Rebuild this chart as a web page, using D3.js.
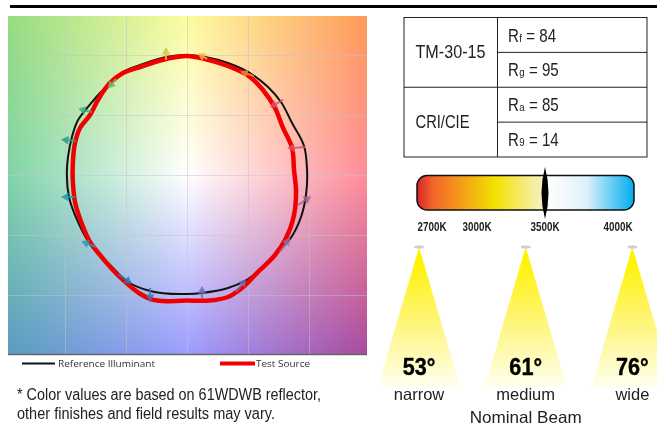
<!DOCTYPE html>
<html>
<head>
<meta charset="utf-8">
<script src="https://cdn.jsdelivr.net/npm/d3@7"></script>
<style>
  body { margin: 0; background: #fff; }
  #wrap { position: relative; width: 657px; height: 424px; overflow: hidden; }
  canvas, svg { position: absolute; left: 0; top: 0; }
  text { font-family: "Liberation Sans", sans-serif; }
</style>
</head>
<body>
<div id="wrap">
  <canvas id="bg" width="657" height="424"></canvas>
  <svg id="chart" width="657" height="424"></svg>
</div>
<script>
// colour vector graphic: [x, y] going clockwise from the top
const refCurve = [[0,1],[.148,.983],[.336,.933],[.541,.833],[.664,.733],[.77,.608],[.861,.433],[.959,.242],[.984,.042],[.975,-.167],[.934,-.35],[.861,-.508],[.762,-.625],[.598,-.792],[.475,-.883],[.336,-.942],[.123,-.983],[0,-.992],[-.303,-.967],[-.484,-.892],[-.631,-.75],[-.779,-.6],[-.893,-.392],[-.967,-.183],[-.984,.042],[-.975,.15],[-.943,.317],[-.893,.458],[-.811,.567],[-.689,.708],[-.59,.792],[-.508,.867],[-.361,.925],[-.172,.983]];
const testCurve = [[0,.992],[.148,.967],[.336,.908],[.516,.817],[.623,.708],[.721,.558],[.787,.392],[.861,.225],[.877,.042],[.893,-.125],[.877,-.333],[.803,-.542],[.721,-.667],[.582,-.808],[.451,-.942],[.336,-1.017],[.23,-1.042],[0,-1.046],[-.303,-1.033],[-.385,-.99],[-.516,-.883],[-.713,-.667],[-.795,-.558],[-.861,-.408],[-.918,-.225],[-.934,-.083],[-.934,.125],[-.918,.267],[-.877,.392],[-.795,.5],[-.73,.625],[-.631,.767],[-.525,.85],[-.385,.9],[-.172,.967]];

// 16 hue bin arrows: tail, head, colour
const binTails = [[.967,.233],[.787,.625],[.549,.825],[.164,.967],[-.172,.958],[-.582,.8],[-.779,.525],[-.91,.283],[-.918,-.183],[-.746,-.6],[-.566,-.825],[-.303,-.942],[.123,-1.025],[.402,-.975],[.762,-.642],[.91,-.25]];
const binHeads = [[.861,.225],[.713,.583],[.475,.85],[.123,.992],[-.172,1.025],[-.623,.75],[-.852,.542],[-.992,.292],[-.992,-.183],[-.828,-.567],[-.484,-.883],[-.303,-1.017],[.123,-.967],[.459,-.9],[.82,-.558],[.984,-.2]];
const binColors = ["#d9506a","#d8506a","#f08a3c","#f0b040","#d9c050","#7fb060","#3fae7a","#1fa08a","#18a0a0","#2a9ab0","#2080c0","#4a70b0","#6a70b0","#7a68a8","#9a70a8","#a8608f"];

const gridTicks = [-1, -.5, 0, .5, 1];
// background colour grid, rows top to bottom
const bgTop = ["#96dc82", "#fdfca0", "#ff9a58"];
const bgMid = ["#80d4a8", "#ffffff", "#ff8c98"];
const bgBot = ["#5a9cc0", "#9c9cff", "#a84a9c"];

const metricGroups = ["TM-30-15", "CRI/CIE"];
const metricNames = [["f", "g"], ["a", "9"]];
const metricValues = [[84, 95], [85, 14]];

const cctTicks = [2700, 3000, 3500, 4000];
const cctSelected = 3500;

const beamAngles = [53, 61, 76];
const beamNames = ["narrow", "medium", "wide"];

const svg = d3.select("#chart");

// ---- plot
const x = d3.scaleLinear().domain([-1.467, 1.475]).range([8, 367]);
const y = d3.scaleLinear().domain([1.325, -1.492]).range([16, 354]);

const ctx = document.getElementById("bg").getContext("2d");
const u = d3.scaleLinear().domain([8, 187, 367]);
const v = d3.scaleLinear().domain([16, 175, 354]);
const rowTop = u.copy().range(bgTop), rowMid = u.copy().range(bgMid), rowBot = u.copy().range(bgBot);
for (let px = 8; px < 367; px++) {
  const col = v.copy().range([rowTop(px), rowMid(px), rowBot(px)]);
  for (let py = 16; py < 354; py++) {
    ctx.fillStyle = col(py);
    ctx.fillRect(px, py, 1, 1);
  }
}

svg.append("g").selectAll("line").data(gridTicks).join("line")
  .attr("x1", d => Math.round(x(d)) + .5).attr("x2", d => Math.round(x(d)) + .5).attr("y1", 16).attr("y2", 354)
  .attr("stroke", "#c4c4c4").attr("stroke-opacity", .5);
svg.append("g").selectAll("line").data(gridTicks).join("line")
  .attr("y1", d => Math.round(y(d)) + .5).attr("y2", d => Math.round(y(d)) + .5).attr("x1", 8).attr("x2", 367)
  .attr("stroke", "#c4c4c4").attr("stroke-opacity", .5);
svg.append("line").attr("x1", 8).attr("x2", 367).attr("y1", 354.5).attr("y2", 354.5)
  .attr("stroke", "#666").attr("stroke-width", 1.5);

const curve = d3.line().x(d => x(d[0])).y(d => y(d[1])).curve(d3.curveCatmullRomClosed.alpha(1));
svg.append("path").attr("d", curve(refCurve)).attr("fill", "none").attr("stroke", "#111").attr("stroke-width", 2);
svg.append("path").attr("d", curve(testCurve)).attr("fill", "none").attr("stroke", "#f00000")
  .attr("stroke-width", 4.5).attr("stroke-linejoin", "round");

const tri = d3.symbol().type(d3.symbolTriangle).size(32);
const arrows = svg.append("g").selectAll("g").data(binTails).join("g").attr("opacity", .85);
arrows.append("line")
  .attr("x1", d => x(d[0])).attr("y1", d => y(d[1]))
  .attr("x2", (d, i) => x(binHeads[i][0])).attr("y2", (d, i) => y(binHeads[i][1]))
  .attr("stroke", (d, i) => binColors[i]).attr("stroke-width", 2);
arrows.append("path").attr("d", tri())
  .attr("fill", (d, i) => binColors[i])
  .attr("transform", (d, i) => {
    const hx = x(binHeads[i][0]), hy = y(binHeads[i][1]);
    const a = Math.atan2(hy - y(d[1]), hx - x(d[0])) * 180 / Math.PI + 90;
    return `translate(${hx},${hy}) rotate(${a})`;
  });

// ---- top rule
svg.append("rect").attr("x", 10).attr("y", 5).attr("width", 647).attr("height", 3).attr("fill", "#000");

// ---- legend
const legendFont = "'Open Sans', sans-serif";
svg.append("line").attr("x1", 22).attr("x2", 55).attr("y1", 363.5).attr("y2", 363.5).attr("stroke", "#111").attr("stroke-width", 2);
svg.append("text").attr("x", 58).attr("y", 367).style("font-family", legendFont).attr("font-size", 9.5).attr("fill", "#333")
  .attr("textLength", 97).attr("lengthAdjust", "spacingAndGlyphs").text("Reference Illuminant");
svg.append("line").attr("x1", 220).attr("x2", 255).attr("y1", 363.5).attr("y2", 363.5).attr("stroke", "#f00000").attr("stroke-width", 4);
svg.append("text").attr("x", 256).attr("y", 367).style("font-family", legendFont).attr("font-size", 9.5).attr("fill", "#333")
  .attr("textLength", 54).attr("lengthAdjust", "spacingAndGlyphs").text("Test Source");

// ---- footnote
svg.append("text").attr("x", 17).attr("y", 400).attr("font-size", 16).attr("fill", "#222")
  .attr("textLength", 304).attr("lengthAdjust", "spacingAndGlyphs").text("* Color values are based on 61WDWB reflector,");
svg.append("text").attr("x", 17).attr("y", 419).attr("font-size", 16).attr("fill", "#222")
  .attr("textLength", 258).attr("lengthAdjust", "spacingAndGlyphs").text("other finishes and field results may vary.");

// ---- metric table
const rowY = d3.scaleLinear().domain([0, 4]).range([17.5, 157]);
const table = svg.append("g");
table.append("rect").attr("x", 404).attr("y", rowY(0)).attr("width", 243).attr("height", rowY(4) - rowY(0))
  .attr("fill", "none").attr("stroke", "#222");
table.append("line").attr("x1", 497.5).attr("x2", 497.5).attr("y1", rowY(0)).attr("y2", rowY(4)).attr("stroke", "#222");
table.selectAll("line.row").data([1, 2, 3]).join("line").attr("class", "row")
  .attr("x1", d => d === 2 ? 404 : 497.5).attr("x2", 647)
  .attr("y1", d => rowY(d)).attr("y2", d => rowY(d)).attr("stroke", "#222");
metricGroups.forEach((g, i) => {
  table.append("text").attr("x", 415.5).attr("y", rowY(i * 2 + 1) + 6).attr("font-size", 18).attr("fill", "#222")
    .attr("textLength", i === 0 ? 70 : 54).attr("lengthAdjust", "spacingAndGlyphs").text(g);
  metricNames[i].forEach((n, j) => {
    const t = table.append("text").attr("transform", `translate(508,${rowY(i * 2 + j) + 24}) scale(.84,1)`)
      .attr("font-size", 18).attr("fill", "#222");
    t.append("tspan").text("R");
    t.append("tspan").attr("font-size", 11.5).attr("dx", .5).text(n);
    t.append("tspan").text(` = ${metricValues[i][j]}`);
  });
});

// ---- colour temperature bar
const cct = d3.scaleLinear().domain(cctTicks).range([432, 477, 545, 618]);
const defs = svg.append("defs");
const barStops = [[0, "#d9252a"], [.07, "#f2622a"], [.16, "#f58a20"], [.36, "#f2e200"], [.585, "#f8f0c8"], [.6, "#ffffff"], [.78, "#dff1fa"], [1, "#00aeef"]];
defs.append("linearGradient").attr("id", "cctGrad").selectAll("stop").data(barStops).join("stop")
  .attr("offset", d => d[0]).attr("stop-color", d => d[1]);
svg.append("rect").attr("x", 417).attr("y", 175.5).attr("width", 217).attr("height", 34.5).attr("rx", 10)
  .attr("fill", "url(#cctGrad)").attr("stroke", "#111").attr("stroke-width", 1.5);
const mx = cct(cctSelected);
svg.append("path").attr("d", `M${mx},167Q${mx + 7},193 ${mx},219Q${mx - 7},193 ${mx},167Z`).attr("fill", "#000");
svg.append("g").selectAll("text").data(cctTicks).join("text")
  .attr("x", d => cct(d) - 14.5).attr("y", 231)
  .attr("font-size", 13).attr("font-weight", "bold").attr("fill", "#222")
  .attr("textLength", 29).attr("lengthAdjust", "spacingAndGlyphs").text(d => d + "K");

// ---- beam cones
const beamX = d3.scaleBand().domain(beamNames).range([366, 686]);
const beamC = d => beamX(d) + beamX.bandwidth() / 2 - .3;
const beamGrad = defs.append("linearGradient").attr("id", "beamGrad").attr("x1", 0).attr("x2", 0).attr("y1", 0).attr("y2", 1);
beamGrad.append("stop").attr("offset", .08).attr("stop-color", "#fff200");
beamGrad.append("stop").attr("offset", .6).attr("stop-color", "#fff68a");
beamGrad.append("stop").attr("offset", 1).attr("stop-color", "#fffff0");
const beams = svg.append("g").selectAll("g").data(beamNames).join("g")
  .attr("transform", d => `translate(${beamC(d)},0)`);
beams.append("path").attr("d", "M0,247L41,387L-41,387Z").attr("fill", "url(#beamGrad)");
beams.append("ellipse").attr("cy", 247).attr("rx", 5).attr("ry", 1.7).attr("fill", "#cfcfcf");
beams.append("text").attr("transform", "translate(0,375) scale(.9,1)").attr("text-anchor", "middle")
  .attr("font-size", 24).attr("font-weight", "bold").attr("fill", "#000")
  .attr("stroke", "#000").attr("stroke-width", .4)
  .text((d, i) => beamAngles[i] + "°");
beams.append("text").attr("y", 400).attr("text-anchor", "middle")
  .attr("font-size", 16.5).attr("fill", "#222")
  .text(d => d);
svg.append("text").attr("x", beamC("medium")).attr("y", 423).attr("text-anchor", "middle")
  .attr("font-size", 16.5).attr("fill", "#222")
  .attr("textLength", 112).attr("lengthAdjust", "spacingAndGlyphs").text("Nominal Beam");
</script>
</body>
</html>
